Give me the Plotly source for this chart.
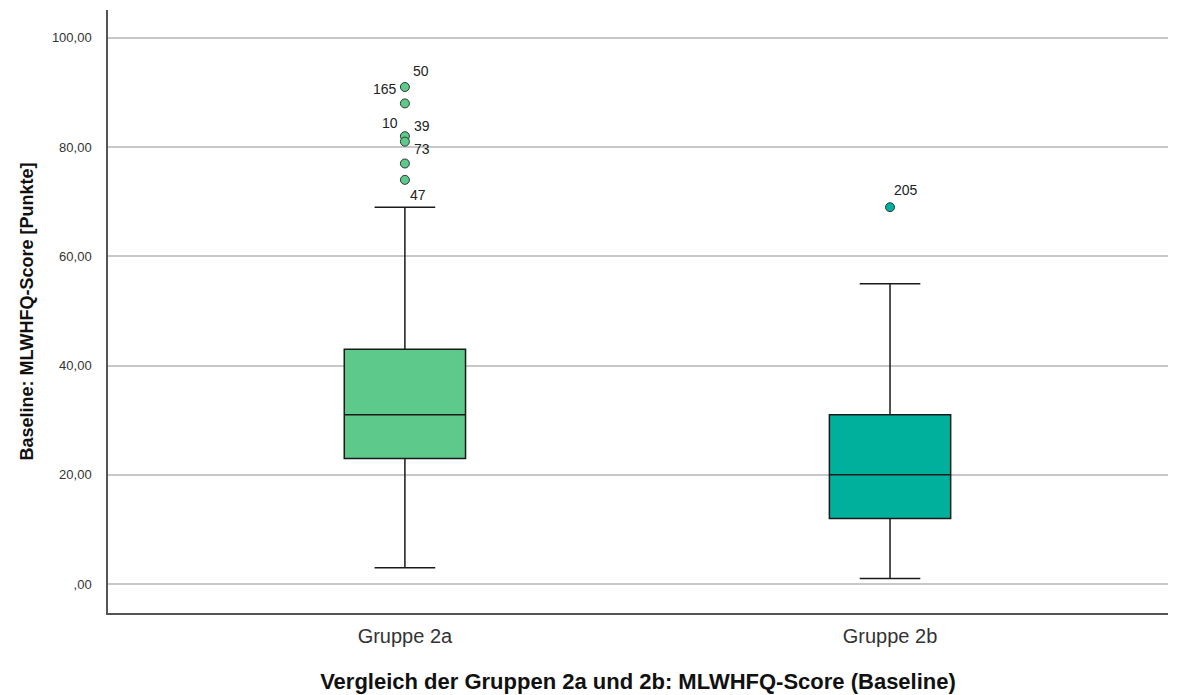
import plotly.graph_objects as go

# Group summary statistics (MLWHFQ baseline score)
groups = ["Gruppe 2a", "Gruppe 2b"]
lower_whisker = [3, 1]
q1 = [23, 12]
median = [31, 20]
q3 = [43, 31]
upper_whisker = [69, 55]
box_colors = ["#5DC98A", "#00B09D"]

# Outlier cases: group index, value, case label
outlier_group = [0, 0, 0, 0, 0, 0, 1]
outlier_value = [91, 88, 82, 81, 77, 74, 69]
outlier_label = ["50", "165", "10", "39", "73", "47", "205"]
label_shift = [(16, 16), (-20, 14), (-15, 13), (17, 16), (17, 14), (13, -15), (16, 17)]

y_ticks = [0, 20, 40, 60, 80, 100]
y_tick_text = [",00", "20,00", "40,00", "60,00", "80,00", "100,00"]

fig = go.Figure()

for i, g in enumerate(groups):
    fig.add_trace(go.Box(
        x=[i], q1=[q1[i]], median=[median[i]], q3=[q3[i]],
        lowerfence=[lower_whisker[i]], upperfence=[upper_whisker[i]],
        width=0.25, whiskerwidth=0.5,
        fillcolor=box_colors[i],
        line=dict(color="#1a1a1a", width=1.5),
        boxpoints=False, showlegend=False, hoverinfo="skip",
    ))

fig.add_trace(go.Scatter(
    x=outlier_group, y=outlier_value, mode="markers",
    marker=dict(size=9, color=[box_colors[g] for g in outlier_group],
                line=dict(color="#2b3a33", width=1)),
    showlegend=False, hoverinfo="skip",
))

for g, v, lab, (dx, dy) in zip(outlier_group, outlier_value, outlier_label, label_shift):
    fig.add_annotation(x=g, y=v, text=lab, showarrow=False,
                       xshift=dx, yshift=dy,
                       font=dict(family="Liberation Sans, Arial", size=14, color="#222"))

fig.update_layout(
    width=1182, height=695,
    margin=dict(l=108, r=14, t=10, b=82),
    plot_bgcolor="white", paper_bgcolor="white",
    font=dict(family="Liberation Sans, Arial", size=13, color="#222"),
    xaxis=dict(
        range=[-0.612, 1.573], tickvals=[0, 1], ticktext=groups, automargin=False,
        showgrid=False, zeroline=False, showline=True, linecolor="#555", linewidth=1.5,
        tickfont=dict(size=20, color="#333"), ticks="", ticklabelstandoff=4,
        title=dict(text="<b>Vergleich der Gruppen 2a und 2b: MLWHFQ-Score (Baseline)</b>",
                   font=dict(size=22, color="#111"), standoff=28),
    ),
    yaxis=dict(
        range=[-5.3, 105.1], tickvals=y_ticks, ticktext=y_tick_text, automargin=False,
        showgrid=True, gridcolor="#c8c8c8", gridwidth=1.5, zeroline=False,
        showline=True, linecolor="#555", linewidth=1.5,
        tickfont=dict(size=13, color="#333"), ticks="", ticklabelstandoff=12,
        title=dict(text="<b>Baseline: MLWHFQ-Score [Punkte]</b>",
                   font=dict(size=18, color="#111"), standoff=14),
    ),
)

fig.write_html("out.html")
